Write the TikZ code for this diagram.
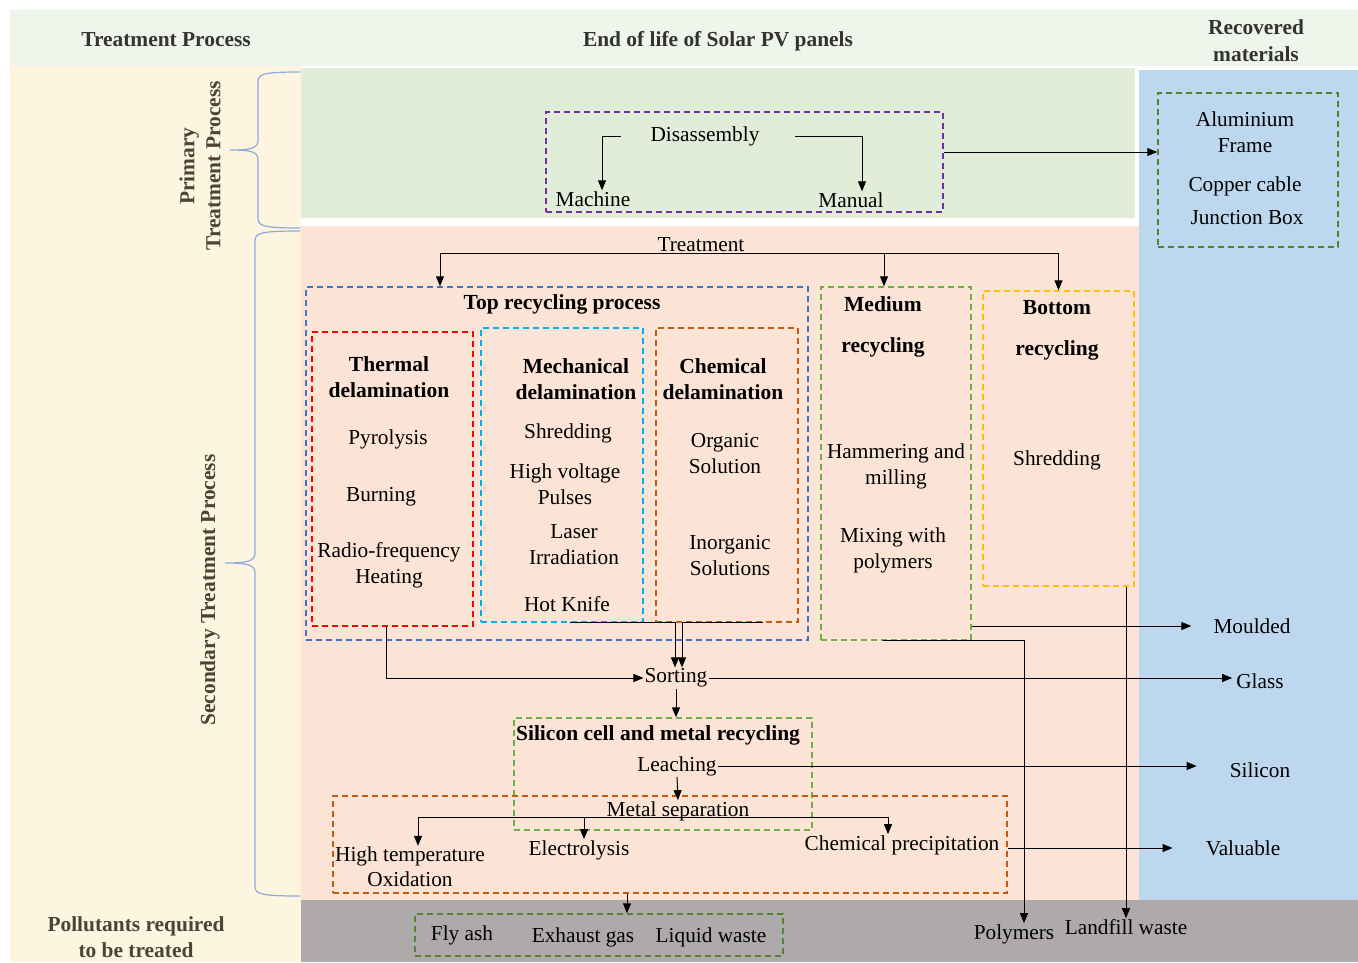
\documentclass[tikz,border=0pt]{standalone}
\usepackage{fontspec}
\setmainfont{Liberation Serif}
\usetikzlibrary{fit,calc,arrows.meta}
\definecolor{hdband}{HTML}{F0F5EC}
\definecolor{cream}{HTML}{FEF5E0}
\definecolor{pgreen}{HTML}{E2EDD9}
\definecolor{ppink}{HTML}{FBE4D6}
\definecolor{pblue}{HTML}{BDD7EE}
\definecolor{pgray}{HTML}{AEAAAA}
\definecolor{purp}{HTML}{7030A0}
\definecolor{dgreen}{HTML}{548235}
\definecolor{lgreen}{HTML}{70AD47}
\definecolor{tblue}{HTML}{4472C4}
\definecolor{tred}{HTML}{FF0000}
\definecolor{tcyan}{HTML}{00B0F0}
\definecolor{torange}{HTML}{C55A11}
\definecolor{tyellow}{HTML}{FFC000}
\definecolor{bracecol}{HTML}{8EA9DB}
\definecolor{hdtext}{HTML}{333333}
\definecolor{sidetext}{HTML}{4A4532}
\begin{document}
\begin{tikzpicture}[x=1pt,y=-1pt,
  every node/.style={font=\fontsize{21.3}{26}\selectfont, align=center, inner sep=1pt, text=black},
  bt/.style={font=\bfseries\fontsize{21.5}{26}\selectfont},
  hd/.style={font=\bfseries\fontsize{21.4}{27}\selectfont, text=hdtext},
  side/.style={font=\bfseries\fontsize{21.4}{26}\selectfont, text=sidetext},
  dbox/.style={draw=#1, dash pattern=on 6pt off 4pt, line width=1.5pt, inner sep=0pt},
  arr/.style={-{Triangle[length=10pt,width=8pt]}, line width=1pt},
  brace/.style={draw=bracecol, line width=1.2pt}
]
\useasboundingbox (0,0) rectangle (1358,962);
% backgrounds
\fill[white] (0,0) rectangle (1358,962);
\fill[hdband] (10,10) rectangle (1358,66);
\fill[cream] (10,66) rectangle (301,962);
\fill[pgreen] (301,68) rectangle (1135,218);
\fill[ppink] (301,226) rectangle (1139,900);
\fill[pblue] (1139,70) rectangle (1358,900);
\fill[pgray] (301,900) rectangle (1358,962);
% braces
\draw[brace] (300,72) .. controls (263,72) and (258,74) .. (258,82) -- (258,140) .. controls (258,148) and (252,150) .. (230,150) .. controls (252,150) and (258,152) .. (258,160) -- (258,218) .. controls (258,226) and (263,228) .. (300,228);
\draw[brace] (300,231) .. controls (260,231) and (255,233) .. (255,241) -- (255,553) .. controls (255,561) and (248,563) .. (225,563) .. controls (248,563) and (255,565) .. (255,573) -- (255,886) .. controls (255,894) and (260,896) .. (300,896);
% headers
\node[hd] (h1) at (166,40) {Treatment Process};
\node[hd] (h2) at (718,41) {End of life of Solar PV panels};
\node[hd] (h3) at (1256,41) {Recovered\\materials};
\node[side, rotate=90] (prim) at (200,166) {Primary\\Treatment Process};
\node[side, rotate=90] (sec) at (210,590) {Secondary Treatment Process};
\node[side] (poll) at (136,937) {Pollutants required\\to be treated};
% boxes
\node[dbox=purp, fit={(546,112) (943,212)}] (disbox) {};
\node[dbox=dgreen, fit={(1158,93) (1338,247)}] (recbox) {};
\node[dbox=tblue, fit={(306,287) (808,640)}] (topbox) {};
\node[dbox=tred, fit={(312,332) (473,626)}] (thermbox) {};
\node[dbox=tcyan, fit={(481,328) (643,622)}] (mechbox) {};
\node[dbox=torange, fit={(656,328) (798,622)}] (chembox) {};
\node[dbox=lgreen, fit={(821,287) (971,640)}] (medbox) {};
\node[dbox=tyellow, fit={(983,291) (1134,586)}] (botbox) {};
\node[dbox=lgreen, fit={(514,718) (812,830)}] (sibox) {};
\node[dbox=torange, fit={(333,796) (1007,893)}] (metbox) {};
\node[dbox=dgreen, fit={(415,914) (783,956)}] (pollbox) {};
% texts
\node (disas) at (705,136) {Disassembly};
\node (mach) at (593,199) {Machine};
\node (man) at (851,200) {Manual};
\node (alu) at (1245,132) {Aluminium\\Frame};
\node (cop) at (1245,186) {Copper cable};
\node (jb) at (1247,218) {Junction Box};
\node (treat) at (701,245) {Treatment};
\node[bt] (toptitle) at (562,304) {Top recycling process};
\node[bt] (thermt) at (389,377) {Thermal\\delamination};
\node (pyro) at (388,439) {Pyrolysis};
\node (burn) at (381,497) {Burning};
\node (radio) at (389,565) {Radio-frequency\\Heating};
\node[bt] (mecht) at (576,379) {Mechanical\\delamination};
\node (shred1) at (568,433) {Shredding};
\node (hvp) at (565,484) {High voltage\\Pulses};
\node (laser) at (574,545) {Laser\\Irradiation};
\node (hk) at (567,604) {Hot Knife};
\node[bt] (chemt) at (723,379) {Chemical\\delamination};
\node (org) at (725,454) {Organic\\Solution};
\node (inorg) at (730,556) {Inorganic\\Solutions};
\node[bt] (medt) at (883,327) {Medium\\[15pt]recycling};
\node (ham) at (896,466) {Hammering and\\milling};
\node (mix) at (893,550) {Mixing with\\polymers};
\node[bt] (bott) at (1057,330) {Bottom\\[15pt]recycling};
\node (shred2) at (1057,460) {Shredding};
\node (mould) at (1252,626) {Moulded};
\node (glass) at (1260,681) {Glass};
\node (sil) at (1260,770) {Silicon};
\node (val) at (1243,848) {Valuable};
\node (poly) at (1014,934) {Polymers};
\node (land) at (1126,927) {Landfill waste};
\node (sort) at (676,678) {Sorting};
\node[bt] (sit) at (658,735) {Silicon cell and metal recycling};
\node (leach) at (677,766) {Leaching};
\node (msep) at (678,811) {Metal separation};
\node[font=\fontsize{21.3}{25}\selectfont] (hto) at (410,867) {High temperature\\Oxidation};
\node (elec) at (579,850) {Electrolysis};
\node (cprec) at (902,845) {Chemical precipitation};
\node (fly) at (462,935) {Fly ash};
\node (exh) at (583,937) {Exhaust gas};
\node (liq) at (711,937) {Liquid waste};
% connectors
\draw[arr] ([xshift=-28pt]disas.west) -| ([xshift=9pt]mach.north);
\draw[arr] ([xshift=34pt]disas.east) -| ([xshift=11pt]man.north);
\draw[arr] ([yshift=10pt]disbox.east) -- ($(recbox.west |- disbox.east)+(0,-10)$);
\draw[arr] (treat.south) -| ([xshift=-117pt]topbox.north);
\draw[arr] (treat.south) -| ([xshift=-12pt]medbox.north);
\draw[arr] (treat.south) -| (botbox.north);
\draw[arr] ([xshift=-6pt]thermbox.south) |- (sort.west);
\draw[arr] ([xshift=8pt]mechbox.south) -| ([xshift=-1pt]sort.north);
\draw[arr] ([xshift=36pt]chembox.south) -| ([xshift=6pt]sort.north);
\draw[arr] (sort.east) -- ($(glass.west |- sort.east)+(-3,0)$);
\draw[arr] (sort.south) -- (sort.south |- sibox.north);
\draw[arr] (leach.south) -- (msep.north);
\draw[arr] (leach.east) -- ($(sil.west |- leach.east)+(-32,0)$);
\draw[arr] (medbox.east |- mould.west) -- ($(mould.west)+(-21,0)$);
\draw[arr] (metbox.east |- val.west) -- ($(val.west)+(-32,0)$);
\draw[arr] ([xshift=-13pt]medbox.south) -| ([xshift=10pt]poly.north);
\draw[arr] (land.north |- botbox.south) -- (land.north);
\coordinate (msl) at ($(msep.center)+(0,6)$);
\draw[arr] (msl) -| ([xshift=8pt]hto.north);
\draw[arr] (msl) -| ([xshift=5pt]elec.north);
\draw[arr] (msl) -| ([xshift=-14pt]cprec.north);
\coordinate (pa) at ($(metbox.south)+(-43,0)$);
\draw[arr] (pa) -- (pa |- pollbox.north);
\end{tikzpicture}
\end{document}
